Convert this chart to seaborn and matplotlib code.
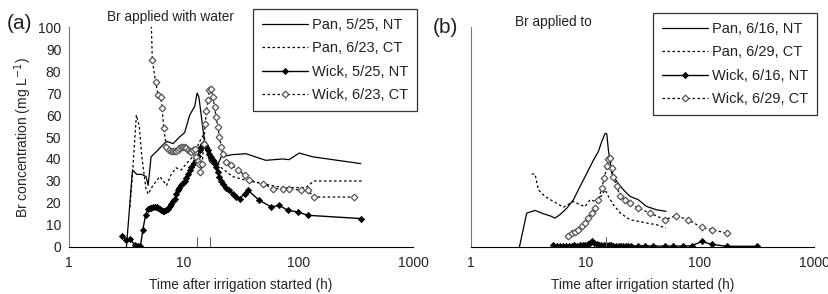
import numpy as np
import pandas as pd
import seaborn as sns
import matplotlib.pyplot as plt
from matplotlib.lines import Line2D

# ---- panel (a): Br applied with water ----
pan_525_t = [3.17, 3.58, 3.9, 4.3, 4.7, 4.9, 5.2, 5.7, 6.2, 7.1, 8.1, 9.2, 10.2, 11.3,
             12.5, 13.1, 13.6, 14.3, 15.2, 16.8, 19.2, 21.3, 26.8, 35, 52, 73, 83, 102, 133, 350]
pan_525_c = [0, 35, 33, 33, 32, 28, 41, 43, 45, 48, 47, 50, 52, 60,
             64, 70, 68, 59, 48, 39, 36, 41, 42, 42.4, 39.4, 40, 39.7, 42.7, 41, 37.9]

pan_623_t = [3.4, 3.6, 3.87, 4.1, 4.3, 4.67, 4.9, 5.4, 6.2, 7.1, 7.8, 8.6, 9.5, 10.6,
             12.0, 13.8, 14.9, 16.3, 18.0, 21.3, 26.8, 37, 73, 116, 137, 360]
pan_623_c = [18, 35, 60, 55, 42, 27, 24, 28, 32, 28, 33, 36, 35, 38,
             41, 48, 51, 45, 41, 36, 32, 30, 27, 27, 30, 30]

wick_525_t = [2.9, 3.17, 3.4, 3.75, 4.0, 4.2, 4.4, 4.65, 4.9, 5.05, 5.2, 5.4, 5.6, 5.8, 6.0,
              6.2, 6.4, 6.6, 6.8, 7.05, 7.3, 7.55, 7.8, 8.1, 8.4, 8.65, 8.9, 9.2, 9.5, 9.85,
              10.2, 10.5, 10.9, 11.3, 11.7, 12.3, 12.9, 13.3, 13.8, 14.2, 14.7, 15.2, 15.8,
              16.3, 16.8, 17.4, 18.0, 18.6, 19.2, 19.8, 20.5, 21.2, 21.9, 23.5, 25, 26.8,
              28.7, 30.7, 34, 36.3, 45.7, 58, 68, 81, 99, 121, 355]
wick_525_c = [4.8, 3.3, 3.8, 0.8, 0.3, 0.3, 7.6, 14.4, 17.4, 17.6, 17.9, 18.0, 18.1, 18.2, 17.8,
              17.3, 16.7, 16.4, 16.2, 16.6, 17.4, 18.4, 19.7, 20.8, 22.0, 24.0, 25.8, 27.0, 28.0, 29.0,
              30.0, 31.5, 33.3, 35.0, 36.4, 38.0, 39.4, 41.5, 44.0, 45.6, 47.0, 46.4, 45.5,
              44.0, 42.4, 41.0, 39.4, 38.0, 36.4, 34.0, 31.8, 30.0, 28.8, 27.0, 25.8, 24.0,
              22.7, 22.0, 24.2, 25.8, 21.2, 18.2, 18.9, 16.7, 15.9, 14.4, 12.9]

wick_623_t = [5.2, 5.33, 5.7, 5.98, 6.3, 6.5, 6.7, 7.07, 7.45, 7.8, 8.1, 8.4, 8.65, 8.9, 9.2,
              9.5, 9.85, 10.2, 10.5, 10.9, 11.3, 11.7, 12.1, 12.5, 12.9, 13.3, 13.6, 14.0, 14.5,
              15.0, 15.4, 15.8, 16.3, 16.8, 17.4, 18.0, 18.6, 19.2, 19.9, 20.5, 21.3, 21.9,
              23.5, 26, 29.6, 34, 37.4, 48.9, 60, 73, 83, 105, 121, 137, 306]
wick_623_c = [105, 85, 75, 69, 68, 63, 54, 45.5, 44, 43.5, 43.5, 43.6, 43.8, 44, 44.8,
              45.5, 45.5, 45.5, 44.8, 44, 43.5, 43.2, 44, 44.7, 41, 39, 37.9, 34, 37.9,
              47, 56, 62, 66.7, 71.2, 72, 68, 63.6, 59, 54.5, 50, 45.5, 42.4,
              38.6, 37.4, 34.8, 32.9, 30.3, 28.8, 26.5, 26.5, 26.5, 25.8, 25.8, 22.7, 22.7]

# ---- panel (b): Br applied to soil surface ----
pan_616_t = [2.65, 3.07, 3.63, 4.3, 5.07, 5.4, 6.0, 6.9, 7.87, 8.98, 10.3, 11.8, 13.0, 13.9,
             14.9, 15.4, 15.9, 17.0, 18.8, 21.5, 24.6, 29, 34.4, 42, 50.8]
pan_616_c = [0, 15.4, 16.6, 15.1, 13.9, 13.1, 14.7, 17.7, 21.5, 27.5, 33.5, 39.6, 43.4, 47.9,
             51.7, 51.4, 44.1, 33.5, 29.8, 26, 23, 21.5, 18.4, 16.9, 16.2]

pan_629_t = [3.39, 3.63, 3.88, 4.43, 5.25, 6.42, 7.87, 8.98, 9.94, 11.0, 12.2, 13.4, 14.9,
             15.9, 17.6, 20.2, 24.6, 34.4, 42, 50.8]
pan_629_c = [33.2, 33.1, 26, 23, 20.7, 18.1, 20.7, 19.2, 18.4, 21.5, 20.7, 22.2, 26,
             23, 19.2, 15.4, 12.4, 10.9, 10.1, 8.6]

wick_616_t = [5.25, 5.6, 6.0, 6.4, 6.8, 7.2, 7.6, 8.0, 8.5, 9.0, 9.5, 10.0, 10.5, 11.0, 11.5,
              12.0, 12.6, 13.2, 13.8, 14.5, 15.2, 16.0, 16.8, 17.6, 18.5, 19.5, 20.5, 21.5,
              22.6, 23.8, 25, 29, 33, 39.4, 49.7, 58.8, 72, 85, 104, 127, 172, 315]
wick_616_c = [0.8, 0.5, 0.4, 0.5, 0.6, 0.5, 0.6, 0.7, 0.6, 0.8, 0.9, 1.0, 1.2, 1.6, 2.5,
              1.6, 1.2, 1.0, 0.9, 0.8, 0.8, 0.7, 0.7, 0.6, 0.6, 0.6, 0.5, 0.5,
              0.5, 0.5, 0.5, 0.5, 0.5, 0.4, 0.4, 0.4, 0.4, 0.5, 2.5, 1.2, 0.3, 0.3]

wick_629_t = [7.1, 7.6, 8.1, 8.7, 9.3, 9.9, 10.6, 11.4, 12.2, 13.0, 13.9, 14.6, 15.4, 15.9,
              16.4, 17.0, 17.6, 18.8, 20.2, 22.2, 24.6, 29, 36.7, 49.7, 61.8, 79, 104, 127, 172]
wick_629_c = [4.8, 6.3, 6.6, 7.9, 9.4, 10.9, 13.1, 15.4, 17.7, 21.5, 26.7, 31.3, 36.6, 39.9,
              40.3, 35.8, 32, 27.5, 23, 21.5, 19.9, 17.7, 15.4, 12.4, 14.2, 12.4, 8.9, 7.9, 6.3]

labels_a = ['Pan, 5/25, NT', 'Pan, 6/23, CT', 'Wick, 5/25, NT', 'Wick, 6/23, CT']
labels_b = ['Pan, 6/16, NT', 'Pan, 6/29, CT', 'Wick, 6/16, NT', 'Wick, 6/29, CT']

sns.set_style("white")
plt.rcParams['font.family'] = ['Liberation Sans', 'DejaVu Sans']
plt.rcParams['text.color'] = '#222222'

fig = plt.figure(figsize=(8.29, 2.94), dpi=100)
ax_a = fig.add_axes([0.0832, 0.160, 0.415, 0.748])
ax_b = fig.add_axes([0.5682, 0.160, 0.4137, 0.748])

styles = {
    'pan_nt': dict(color='black', lw=0.9, linestyle='-', marker=None),
    'pan_ct': dict(color='black', lw=0.9, linestyle=(0, (2, 2)), marker=None),
    'wick_nt': dict(color='black', lw=1.0, linestyle='-', marker='D', markersize=3.2,
                    markerfacecolor='black', markeredgecolor='black', markeredgewidth=0.5),
    'wick_ct': dict(color='black', lw=0.9, linestyle=(0, (2, 2)), marker='D', markersize=3.4,
                    markerfacecolor='white', markeredgecolor='#555555', markeredgewidth=0.9),
}
keys = ['pan_nt', 'pan_ct', 'wick_nt', 'wick_ct']


def draw(ax, series, labels):
    for (t, c), key, lab in zip(series, keys, labels):
        df = pd.DataFrame({'t': t, 'c': c})
        sns.lineplot(data=df, x='t', y='c', ax=ax, estimator=None, sort=False,
                     label=lab, legend=False, **styles[key])
    ax.set_xscale('log')
    ax.set_xlim(1, 1000)
    ax.set_ylim(0, 100)
    ax.set_xticks([1, 10, 100, 1000])
    ax.set_xticklabels(['1', '10', '100', '1000'])
    ax.set_yticks(range(0, 101, 10))
    ax.minorticks_off()
    for s in ['top', 'right']:
        ax.spines[s].set_visible(False)
    ax.spines['left'].set_color('#777777')
    ax.spines['bottom'].set_color('black')
    ax.spines['left'].set_linewidth(0.8)
    ax.spines['bottom'].set_linewidth(0.8)
    ax.tick_params(axis='x', direction='inout', length=5, width=0.6, labelsize=10, pad=4,
                   colors='#777777', labelcolor='#222222')
    ax.tick_params(axis='y', direction='out', length=3.5, width=0.6, labelsize=10, pad=2,
                   colors='#777777', labelcolor='#222222')
    ax.set_xlabel('Time after irrigation started (h)', fontsize=9.8, labelpad=6)


draw(ax_a, [(pan_525_t, pan_525_c), (pan_623_t, pan_623_c),
            (wick_525_t, wick_525_c), (wick_623_t, wick_623_c)], labels_a)
draw(ax_b, [(pan_616_t, pan_616_c), (pan_629_t, pan_629_c),
            (wick_616_t, wick_616_c), (wick_629_t, wick_629_c)], labels_b)

ax_a.set_ylabel('Br concentration (mg L$^{-1}$)', fontsize=10, labelpad=3)
ax_b.set_ylabel('')
ax_b.set_yticklabels([])

# irrigation markers near the x-axis
for ax, xs in [(ax_a, [13, 17]), (ax_b, [15.2])]:
    for xv in xs:
        ax.plot([xv, xv], [0, 4.5], color='#555555', lw=0.7)

handles = [Line2D([], [], **styles[k]) for k in keys]
for labels, anchor in [(labels_a, (0.503, 0.969)), (labels_b, (0.9855, 0.956))]:
    leg = fig.legend(handles, labels, loc='upper right', bbox_to_anchor=anchor,
                     fontsize=10.5, frameon=True, fancybox=False, handlelength=3.2,
                     labelspacing=0.65, borderpad=0.6, handletextpad=0.25,
                     borderaxespad=0)
    leg.get_frame().set_edgecolor('black')
    leg.get_frame().set_linewidth(0.9)

fig.text(0.008, 0.903, '(a)', fontsize=15)
fig.text(0.522, 0.889, '(b)', fontsize=15)
fig.text(0.129, 0.929, 'Br applied with water', fontsize=9.8)
fig.text(0.621, 0.913, 'Br applied to', fontsize=9.8)

fig.savefig('out.png', dpi=100)
